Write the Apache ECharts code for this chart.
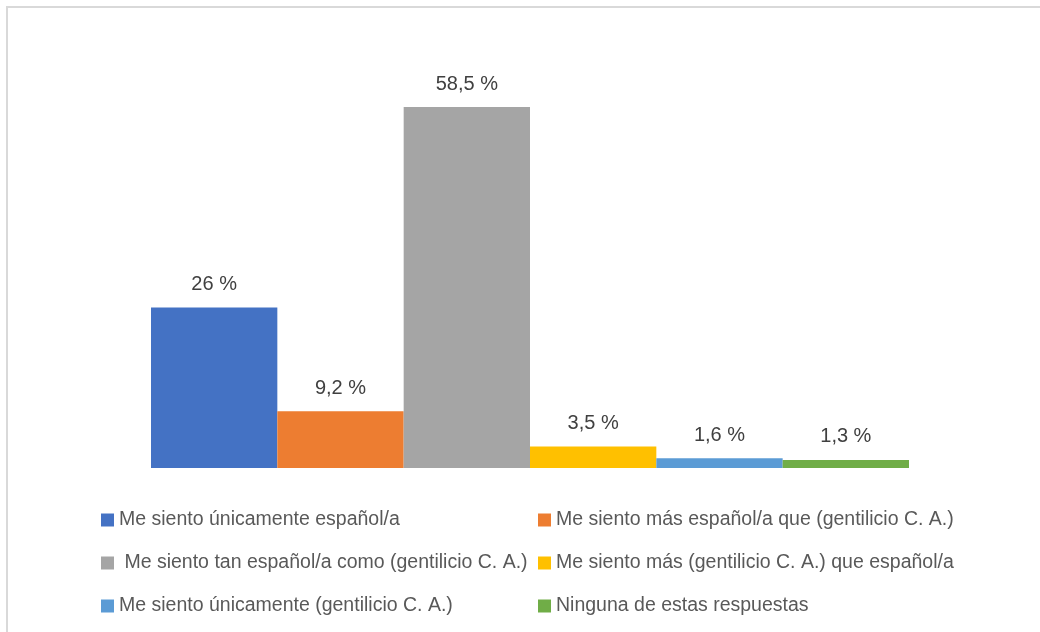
<!DOCTYPE html>
<html>
<head>
<meta charset="utf-8">
<script src="https://cdn.jsdelivr.net/npm/echarts@6/dist/echarts.min.js"></script>
<style>
  html, body { margin: 0; padding: 0; background: #fff; }
  #box { width: 1040px; height: 632px; }
</style>
</head>
<body>
<div id="box"></div>
<script>
var respuestas = [
  'Me siento únicamente español/a',
  'Me siento más español/a que (gentilicio C. A.)',
  ' Me siento tan español/a como (gentilicio C. A.)',
  'Me siento más (gentilicio C. A.) que español/a',
  'Me siento únicamente (gentilicio C. A.)',
  'Ninguna de estas respuestas'
];
var porcentajes = [26, 9.2, 58.5, 3.5, 1.6, 1.3];
var colores = ['#4472C4', '#ED7D31', '#A5A5A5', '#FFC000', '#5B9BD5', '#70AD47'];

var myChart = echarts.init(document.getElementById('box'));

var series = [];
for (var i = 0; i < respuestas.length; i++) {
  series.push({
    name: respuestas[i],
    type: 'bar',
    data: [porcentajes[i]],
    barGap: '0%',
    barCategoryGap: '0%',
    itemStyle: { color: colores[i] },
    label: {
      show: true,
      position: 'top',
      distance: 13,
      color: '#404040',
      fontSize: 20,
      fontFamily: 'Liberation Sans, Arial, sans-serif',
      formatter: function (p) {
        return String(p.value).replace('.', ',') + ' %';
      }
    }
  });
}

var legendText = {
  color: '#595959',
  fontSize: 19.5,
  fontFamily: 'Liberation Sans, Arial, sans-serif'
};

option = {
  animation: false,
  grid: {
    left: 151,
    right: 131,
    top: 107,
    bottom: 164
  },
  xAxis: {
    type: 'category',
    data: [''],
    axisLine: { show: false },
    axisTick: { show: false },
    axisLabel: { show: false }
  },
  yAxis: {
    type: 'value',
    min: 0,
    max: 58.5,
    show: false,
    splitLine: { show: false }
  },
  legend: [
    {
      orient: 'vertical',
      left: 96,
      top: 505,
      itemWidth: 13,
      itemHeight: 13,
      itemGap: 23,
      icon: 'rect',
      textStyle: legendText,
      data: [respuestas[0], respuestas[2], respuestas[4]]
    },
    {
      orient: 'vertical',
      left: 533,
      top: 505,
      itemWidth: 13,
      itemHeight: 13,
      itemGap: 23,
      icon: 'rect',
      textStyle: legendText,
      data: [respuestas[1], respuestas[3], respuestas[5]]
    }
  ],
  graphic: [
    {
      type: 'rect',
      silent: true,
      shape: { x: 7, y: 7, width: 1100, height: 700 },
      style: { fill: 'none', stroke: '#d9d9d9', lineWidth: 2 }
    }
  ],
  series: series
};
myChart.setOption(option);
</script>
</body>
</html>
